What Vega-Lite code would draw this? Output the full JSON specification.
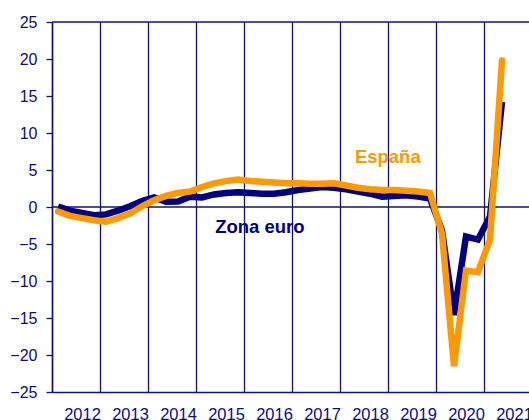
{
  "$schema": "https://vega.github.io/schema/vega-lite/v6.json",
  "autosize": {"type": "none"},
  "padding": {"left": 52, "top": 22, "right": 0, "bottom": 28},
  "width": 477,
  "height": 370,
  "background": "white",
  "config": {
    "view": {"stroke": null},
    "font": "Liberation Sans",
    "axis": {"labelFont": "Liberation Sans", "labelFontSize": 16, "labelColor": "#0c0c78"}
  },
  "datasets": {
    "euro": [
      {"t": 2012.125, "value": 0.05}, {"t": 2012.375, "value": -0.5}, {"t": 2012.625, "value": -0.8}, {"t": 2012.875, "value": -1.1},
      {"t": 2013.125, "value": -1.0}, {"t": 2013.375, "value": -0.5}, {"t": 2013.625, "value": 0.1}, {"t": 2013.875, "value": 0.8},
      {"t": 2014.125, "value": 1.3}, {"t": 2014.375, "value": 0.7}, {"t": 2014.625, "value": 0.75}, {"t": 2014.875, "value": 1.4},
      {"t": 2015.125, "value": 1.3}, {"t": 2015.375, "value": 1.7}, {"t": 2015.625, "value": 1.9}, {"t": 2015.875, "value": 2.0},
      {"t": 2016.125, "value": 1.9}, {"t": 2016.375, "value": 1.8}, {"t": 2016.625, "value": 1.8}, {"t": 2016.875, "value": 2.0},
      {"t": 2017.125, "value": 2.3}, {"t": 2017.375, "value": 2.5}, {"t": 2017.625, "value": 2.7}, {"t": 2017.875, "value": 2.6},
      {"t": 2018.125, "value": 2.4}, {"t": 2018.375, "value": 2.1}, {"t": 2018.625, "value": 1.8}, {"t": 2018.875, "value": 1.4},
      {"t": 2019.125, "value": 1.5}, {"t": 2019.375, "value": 1.6}, {"t": 2019.625, "value": 1.4}, {"t": 2019.875, "value": 1.15},
      {"t": 2020.125, "value": -3.2}, {"t": 2020.375, "value": -14.6}, {"t": 2020.625, "value": -4.0}, {"t": 2020.875, "value": -4.4},
      {"t": 2021.125, "value": -1.3}, {"t": 2021.375, "value": 14.2}
    ],
    "espana": [
      {"t": 2012.125, "value": -0.6}, {"t": 2012.375, "value": -1.2}, {"t": 2012.625, "value": -1.5}, {"t": 2012.875, "value": -1.8},
      {"t": 2013.125, "value": -2.0}, {"t": 2013.375, "value": -1.5}, {"t": 2013.625, "value": -0.9}, {"t": 2013.875, "value": 0.1},
      {"t": 2014.125, "value": 0.9}, {"t": 2014.375, "value": 1.5}, {"t": 2014.625, "value": 1.9}, {"t": 2014.875, "value": 2.1},
      {"t": 2015.125, "value": 2.7}, {"t": 2015.375, "value": 3.2}, {"t": 2015.625, "value": 3.5}, {"t": 2015.875, "value": 3.7},
      {"t": 2016.125, "value": 3.5}, {"t": 2016.375, "value": 3.4}, {"t": 2016.625, "value": 3.3}, {"t": 2016.875, "value": 3.2},
      {"t": 2017.125, "value": 3.2}, {"t": 2017.375, "value": 3.15}, {"t": 2017.625, "value": 3.15}, {"t": 2017.875, "value": 3.2},
      {"t": 2018.125, "value": 2.9}, {"t": 2018.375, "value": 2.6}, {"t": 2018.625, "value": 2.4}, {"t": 2018.875, "value": 2.3},
      {"t": 2019.125, "value": 2.3}, {"t": 2019.375, "value": 2.2}, {"t": 2019.625, "value": 2.1}, {"t": 2019.875, "value": 1.9},
      {"t": 2020.125, "value": -3.6}, {"t": 2020.375, "value": -21.5}, {"t": 2020.625, "value": -8.6}, {"t": 2020.875, "value": -8.8},
      {"t": 2021.125, "value": -4.4}, {"t": 2021.375, "value": 19.8}
    ],
    "refs": [{"value": 0}, {"value": 25}],
    "labels": [
      {"t": 2018.31, "value": 6.0, "label": "España", "serie": "espana"},
      {"t": 2015.40, "value": -3.45, "label": "Zona euro", "serie": "euro"}
    ]
  },
  "encoding": {
    "x": {
      "field": "t", "type": "quantitative",
      "scale": {"domain": [2012, 2021.9375], "nice": false, "zero": false},
      "axis": {
        "title": null,
        "values": [2012, 2013, 2014, 2015, 2016, 2017, 2018, 2019, 2020, 2021],
        "format": "d",
        "grid": true, "gridColor": "#10107a", "gridWidth": 1.3, "gridOpacity": 1,
        "ticks": false,
        "domainColor": "#10107a", "domainWidth": 1.5,
        "labelFlush": false, "labelOverlap": false,
        "labelOffset": 30, "labelPadding": 14, "labelBound": false, "labelFontSize": 16.5
      }
    },
    "y": {
      "field": "value", "type": "quantitative",
      "scale": {"domain": [-25, 25], "nice": false, "zero": false},
      "axis": {
        "title": null,
        "values": [-25, -20, -15, -10, -5, 0, 5, 10, 15, 20, 25],
        "grid": false,
        "tickColor": "#10107a", "tickSize": 6, "tickWidth": 1.3,
        "domainColor": "#10107a", "domainWidth": 1.5,
        "labelPadding": 9, "labelFlush": false, "labelOverlap": false
      }
    }
  },
  "layer": [
    {
      "data": {"name": "refs"},
      "mark": {"type": "rule", "color": "#10107a", "strokeWidth": 1.5},
      "encoding": {"x": null}
    },
    {
      "data": {"name": "euro"},
      "mark": {"type": "line", "color": "#000080", "strokeWidth": 6.5, "strokeCap": "butt"}
    },
    {
      "data": {"name": "espana"},
      "mark": {"type": "line", "color": "#FF9900", "strokeWidth": 6.5, "strokeCap": "round"}
    },
    {
      "data": {"name": "labels"},
      "mark": {"type": "text", "align": "left", "baseline": "alphabetic", "fontSize": 18.5, "fontWeight": "bold", "font": "Liberation Sans"},
      "encoding": {
        "text": {"field": "label"},
        "color": {"field": "serie", "type": "nominal", "scale": {"domain": ["espana", "euro"], "range": ["#FF9900", "#000080"]}, "legend": null}
      }
    }
  ]
}
